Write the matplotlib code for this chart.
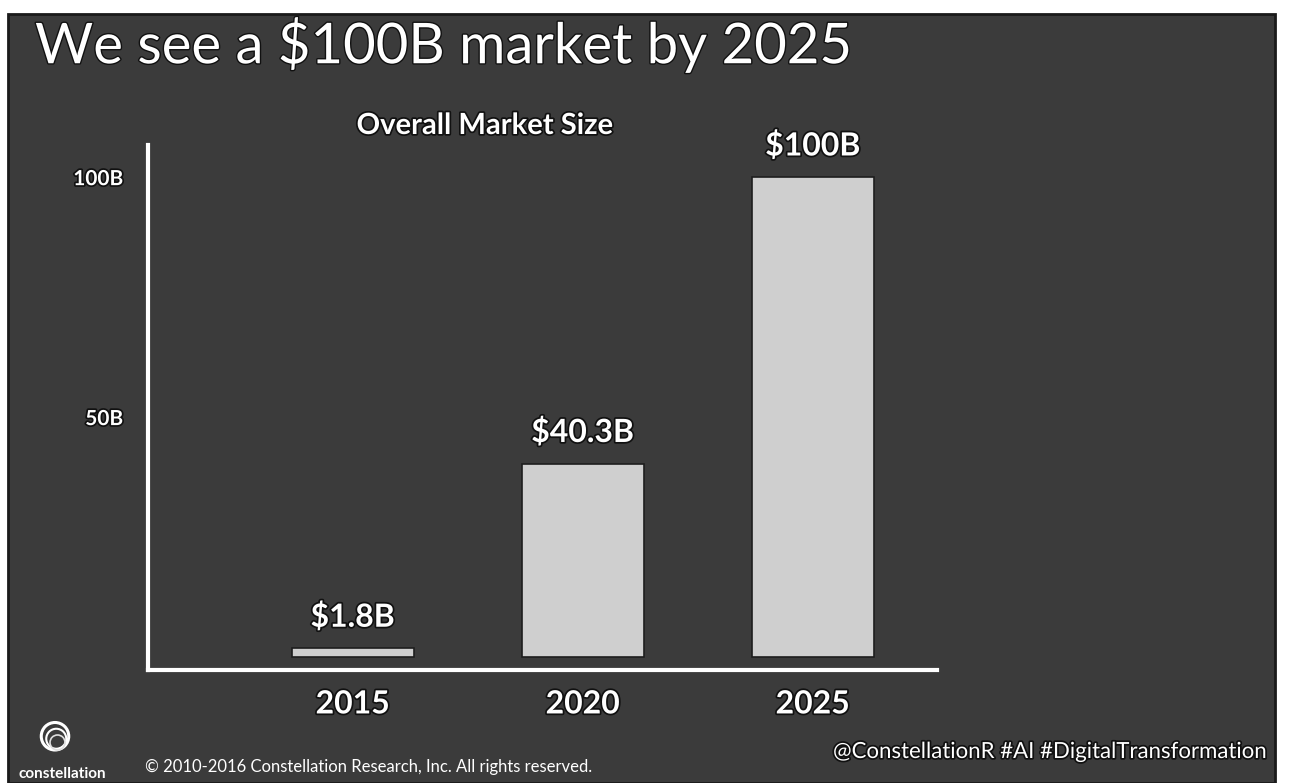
import matplotlib
matplotlib.use("Agg")
import matplotlib.pyplot as plt
from matplotlib.patches import Rectangle, Circle
import matplotlib.patheffects as pe

# Market size data (billions USD)
years = ["2015", "2020", "2025"]
market_size = [1.8, 40.3, 100.0]
value_labels = ["$1.8B", "$40.3B", "$100B"]
ytick_values = [50, 100]
ytick_labels = ["50B", "100B"]

W, H = 1291, 783
fig = plt.figure(figsize=(W / 100, H / 100), dpi=100, facecolor="white")

FONT = "Lato"
SLIDE = "#3b3b3b"
BAR = "#cfcfcf"
outline = [pe.withStroke(linewidth=2.5, foreground="#111111")]

# slide background
fig.patches.append(Rectangle((8 / W, 0), (1275 - 8) / W, 1 - 14 / H,
                             transform=fig.transFigure, facecolor=SLIDE,
                             edgecolor="#1a1a1a", linewidth=2, zorder=-10))

# slide title
fig.text(35 / W, 1 - 45 / H, "We see a $100B market by 2025", color="white",
         fontsize=40.5, family=FONT, ha="left", va="center",
         path_effects=[pe.withStroke(linewidth=2, foreground="#111111")])

# chart axes
ax = fig.add_axes([148 / W, 1 - 670 / H, (937 - 148) / W, 525 / H])
ax.set_facecolor("none")
x = list(range(len(years)))
ax.bar(x, market_size, width=0.53, color=BAR, edgecolor="#1e1e1e",
       linewidth=1.2, zorder=2)
ax.set_xlim(-0.89, 2.54)
ax.set_ylim(-2.7, 106.7)

for s in ("top", "right"):
    ax.spines[s].set_visible(False)
for s in ("left", "bottom"):
    ax.spines[s].set_color("white")
    ax.spines[s].set_linewidth(3)

ax.set_yticks(ytick_values)
ax.set_yticklabels(ytick_labels)
ax.set_xticks(x)
ax.set_xticklabels(years)
ax.tick_params(axis="y", length=0, pad=18, labelsize=15, labelcolor="white")
ax.tick_params(axis="x", length=0, pad=14, labelsize=23, labelcolor="white")
for lab in ax.get_yticklabels() + ax.get_xticklabels():
    lab.set_fontweight("bold")
    lab.set_family(FONT)
    lab.set_path_effects(outline)

# value labels above bars
for xi, v, lab in zip(x, market_size, value_labels):
    ax.annotate(lab, (xi, v), xytext=(0, 12), textcoords="offset points",
                ha="center", va="bottom", color="white", fontsize=23,
                fontweight="bold", family=FONT, path_effects=outline)

# chart heading
fig.text(485 / W, 1 - 126 / H, "Overall Market Size", color="white",
         fontsize=21, fontweight="bold", family=FONT, ha="center", va="center",
         path_effects=outline)

# footer: logo, copyright, hashtags
logo_ax = fig.add_axes([30 / W, 1 - 765 / H, 50 / W, 50 / H])
logo_ax.set_xlim(-1, 1)
logo_ax.set_ylim(-1, 1)
logo_ax.set_aspect("equal")
logo_ax.axis("off")
logo_ax.add_patch(Circle((0, 0.15), 0.55, fill=False, edgecolor="white", linewidth=2.2))
logo_ax.add_patch(Circle((0.05, 0.05), 0.4, fill=False, edgecolor="white", linewidth=1.5))
logo_ax.add_patch(Circle((0.1, -0.1), 0.3, fill=False, edgecolor="#dddddd", linewidth=1.2))

fig.text(62 / W, 1 - 774 / H, "constellation", color="white", fontsize=11,
         fontweight="bold", family=FONT, ha="center", va="center")
fig.text(145 / W, 1 - 767 / H,
         "\u00a9 2010-2016 Constellation Research, Inc. All rights reserved.",
         color="white", fontsize=12, family=FONT, ha="left", va="center")
fig.text(1268 / W, 1 - 752 / H, "@ConstellationR #AI #DigitalTransformation",
         color="white", fontsize=16, family=FONT, ha="right", va="center",
         path_effects=outline)

fig.savefig("out.png", dpi=100, facecolor="white")
